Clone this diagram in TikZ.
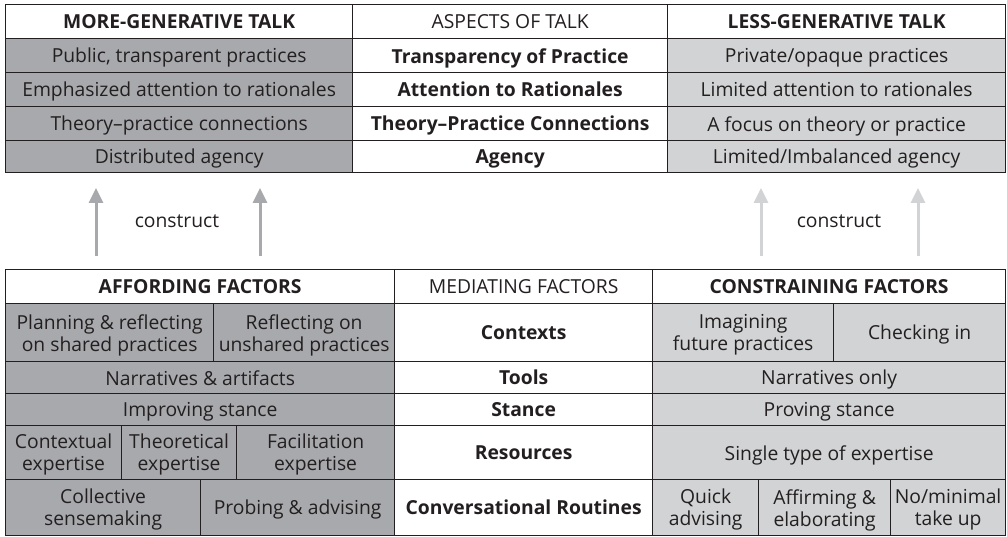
\documentclass[tikz,border=0pt]{standalone}
\usepackage{fontspec}
\setmainfont{Open Sans}
\usetikzlibrary{arrows.meta,positioning}

\definecolor{textdark}{HTML}{231F20}
\definecolor{moregray}{HTML}{A7A9AC}
\definecolor{lessgray}{HTML}{D1D3D4}

\begin{document}
\begin{tikzpicture}[
	x=1pt, y=-1pt,
	basic/.style  = {draw=textdark, line width=1.3pt, rectangle, inner sep=0pt, anchor=north west, align=center, text=textdark, text depth=0pt, font=\fontsize{19.3}{22}\selectfont},
	size/.style 2 args = {minimum width=#1pt, minimum height=#2pt},
	head/.style   = {basic, fill=white, font=\fontsize{19.3}{22}\selectfont\bfseries},
	title/.style  = {basic, fill=white},
	aspect/.style = {basic, fill=white, font=\fontsize{19.3}{22}\selectfont\bfseries},
	more/.style   = {basic, fill=moregray},
	less/.style   = {basic, fill=lessgray},
	build/.style  = {line width=3pt, -{Triangle[width=14pt,length=15pt]}},
	label/.style  = {text=textdark, font=\fontsize{19.3}{22}\selectfont}]
	
	\useasboundingbox (0,0) rectangle (1007,537);
	
	% upper table, talk
	\node[head, size={347}{34}] (more0) at (5,4) {MORE-GENERATIVE TALK};
	\node[title, size={315}{34}] (aspect0) at (352,4) {ASPECTS OF TALK};
	\node[head, size={338}{34}] (less0) at (667,4) {LESS-GENERATIVE TALK};
	
	\node[more, size={347}{34}] (more1) at (5,38) {Public, transparent practices};
	\node[more, size={347}{34}] (more2) at (5,72) {Emphasized attention to rationales};
	\node[more, size={347}{34}] (more3) at (5,106) {Theory--practice connections};
	\node[more, size={347}{32}] (more4) at (5,140) {Distributed agency};
	
	\node[aspect, size={315}{34}] (aspect1) at (352,38) {Transparency of Practice};
	\node[aspect, size={315}{34}] (aspect2) at (352,72) {Attention to Rationales};
	\node[aspect, size={315}{34}] (aspect3) at (352,106) {Theory--Practice Connections};
	\node[aspect, size={315}{32}] (aspect4) at (352,140) {Agency};
	
	\node[less, size={338}{34}] (less1) at (667,38) {Private/opaque practices};
	\node[less, size={338}{34}] (less2) at (667,72) {Limited attention to rationales};
	\node[less, size={338}{34}] (less3) at (667,106) {A focus on theory or practice};
	\node[less, size={338}{32}] (less4) at (667,140) {Limited/Imbalanced agency};
	
	% lower table, factors
	\node[head, size={389}{34}] (aff0) at (5,269) {AFFORDING FACTORS};
	\node[title, size={258}{34}] (med0) at (394,269) {MEDIATING FACTORS};
	\node[head, size={353}{34}] (con0) at (652,269) {CONSTRAINING FACTORS};
	
	% affording side, split cells
	\node[more, size={208}{58}] (aff11) at (5,303) {Planning \& reflecting\\on shared practices};
	\node[more, size={181}{58}] (aff12) at (213,303) {Reflecting on\\unshared practices};
	\node[more, size={389}{32}] (aff2) at (5,361) {Narratives \& artifacts};
	\node[more, size={389}{32}] (aff3) at (5,393) {Improving stance};
	\node[more, size={116}{54}] (aff41) at (5,425) {Contextual\\expertise};
	\node[more, size={115}{54}] (aff42) at (121,425) {Theoretical\\expertise};
	\node[more, size={158}{54}] (aff43) at (236,425) {Facilitation\\expertise};
	\node[more, size={195}{56}] (aff51) at (5,479) {Collective\\sensemaking};
	\node[more, size={194}{56}] (aff52) at (200,479) {Probing \& advising};
	
	% mediating column
	\node[aspect, size={258}{58}] (med1) at (394,303) {Contexts};
	\node[aspect, size={258}{32}] (med2) at (394,361) {Tools};
	\node[aspect, size={258}{32}] (med3) at (394,393) {Stance};
	\node[aspect, size={258}{54}] (med4) at (394,425) {Resources};
	\node[aspect, size={258}{56}] (med5) at (394,479) {Conversational Routines};
	
	% constraining side
	\node[less, size={181}{58}] (con11) at (652,303) {Imagining\\future practices};
	\node[less, size={172}{58}] (con12) at (833,303) {Checking in};
	\node[less, size={353}{32}] (con2) at (652,361) {Narratives only};
	\node[less, size={353}{32}] (con3) at (652,393) {Proving stance};
	\node[less, size={353}{54}] (con4) at (652,425) {Single type of expertise};
	\node[less, size={106}{56}] (con51) at (652,479) {Quick\\advising};
	\node[less, size={132}{56}] (con52) at (758,479) {Affirming \&\\elaborating};
	\node[less, size={115}{56}] (con53) at (890,479) {No/minimal\\take up};
	
	% arrows between the tables
	\coordinate (low1) at (96,256);
	\coordinate (high1) at (96,188);
	\coordinate (low2) at (260,256);
	\coordinate (high2) at (260,188);
	\coordinate (low3) at (761,256);
	\coordinate (high3) at (761,188);
	\coordinate (low4) at (918,256);
	\coordinate (high4) at (918,188);
	
	\foreach \value in {1,2}
	\draw[build, moregray] (low\value) -- (high\value);
	
	\foreach \value in {3,4}
	\draw[build, lessgray] (low\value) -- (high\value);
	
	\node[label] (build1) at (177,221) {construct};
	\node[label] (build2) at (839,221) {construct};
	
\end{tikzpicture}
\end{document}
